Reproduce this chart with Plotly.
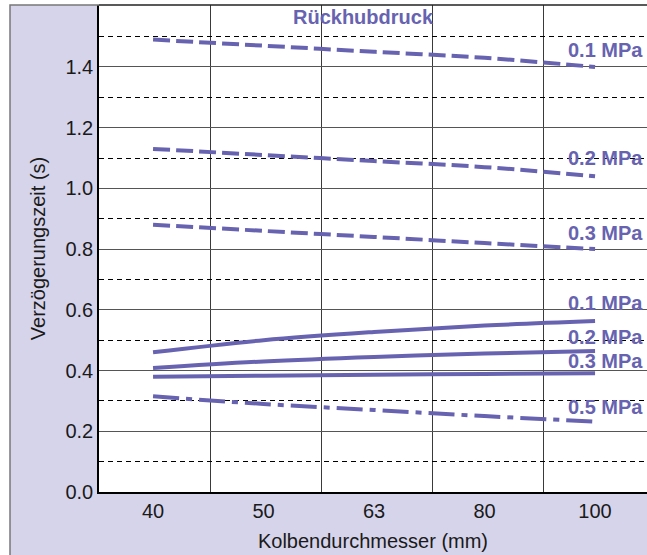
import plotly.graph_objects as go

categories = ["40", "50", "63", "80", "100"]
x_pos = [0, 1, 2, 3, 4]

dashed_01 = [1.49, 1.47, 1.45, 1.43, 1.40]
dashed_02 = [1.13, 1.11, 1.09, 1.07, 1.04]
dashed_03 = [0.88, 0.86, 0.84, 0.82, 0.80]
solid_01 = [0.46, 0.50, 0.527, 0.548, 0.563]
solid_02 = [0.408, 0.43, 0.445, 0.456, 0.464]
solid_03 = [0.38, 0.383, 0.386, 0.389, 0.391]
dashdot_05 = [0.315, 0.29, 0.27, 0.25, 0.232]

labels = ["0.1 MPa", "0.2 MPa", "0.3 MPa", "0.1 MPa", "0.2 MPa", "0.3 MPa", "0.5 MPa"]
label_y = [1.456, 1.10, 0.853, 0.6225, 0.5105, 0.4315, 0.28]

C = "#6763b0"
FONT = "Liberation Sans, Arial, sans-serif"
TXT = "#1a1a1a"

fig = go.Figure()
series = [
    (dashed_01, "17px,6px"), (dashed_02, "17px,6px"), (dashed_03, "17px,6px"),
    (solid_01, "solid"), (solid_02, "solid"), (solid_03, "solid"),
    (dashdot_05, "26px,7px,6px,7px"),
]
for ys, d in series:
    fig.add_trace(go.Scatter(x=x_pos, y=ys, mode="lines",
                             line=dict(color=C, width=4, dash=d, shape="spline"),
                             showlegend=False, hoverinfo="skip"))

for t, yv in zip(labels, label_y):
    fig.add_annotation(x=3.735, y=yv, text="<b>%s</b>" % t, showarrow=False,
                       xanchor="left", yanchor="middle",
                       font=dict(size=20, color=C, family=FONT))

fig.add_annotation(x=1.90, y=1.565, text="<b>Rückhubdruck</b>", showarrow=False,
                   xanchor="center", yanchor="middle",
                   font=dict(size=20, color=C, family=FONT))

# left white strip and top white strip over lavender paper
fig.add_shape(type="rect", xref="paper", yref="paper", x0=-0.2, x1=-0.1624,
              y0=-0.2, y1=1.05, fillcolor="white", line=dict(width=0), layer="below")
fig.add_shape(type="rect", xref="paper", yref="paper", x0=-0.2, x1=1.05,
              y0=1.0, y1=1.05, fillcolor="white", line=dict(width=0), layer="below")
fig.add_shape(type="path", xref="paper", yref="paper",
              path="M -0.1624 -0.2 L -0.1624 1.0 L 0 1.0",
              line=dict(color="#777777", width=1.5))
fig.add_shape(type="line", xref="paper", yref="paper", x0=0, x1=1.01, y0=1.0, y1=1.0,
              line=dict(color="#222222", width=1.5))

fig.update_xaxes(range=[-0.489, 4.47], tickmode="array", tickvals=x_pos,
                 ticktext=categories, showgrid=False, zeroline=False,
                 showline=True, linecolor="black", linewidth=1.5,
                 ticks="", tickfont=dict(size=20, color=TXT, family=FONT),
                 title=dict(text="Kolbendurchmesser (mm)", standoff=13,
                            font=dict(size=20, color=TXT, family=FONT)),
                 minor=dict(tickvals=[0.516, 1.52, 2.525, 3.53], showgrid=True,
                            gridcolor="#3a3a3a", gridwidth=1.3, ticks=""))
fig.update_yaxes(range=[0, 1.604], tickmode="array",
                 tickvals=[0, 0.2, 0.4, 0.6, 0.8, 1.0, 1.2, 1.4],
                 ticktext=["0.0", "0.2", "0.4", "0.6", "0.8", "1.0", "1.2", "1.4"],
                 showgrid=True, gridcolor="#555555", gridwidth=1.3, zeroline=False,
                 showline=True, linecolor="black", linewidth=1.5, ticks="",
                 tickfont=dict(size=20, color=TXT, family=FONT),
                 title=dict(text="Verzögerungszeit (s)", standoff=14,
                            font=dict(size=20, color=TXT, family=FONT)),
                 minor=dict(tickvals=[0.1, 0.3, 0.5, 0.7, 0.9, 1.1, 1.3, 1.5],
                            showgrid=True, gridcolor="black", gridwidth=1,
                            griddash="5px,4px", ticks=""))

fig.update_layout(width=647, height=555,
                  margin=dict(l=99, r=0, t=5, b=63),
                  paper_bgcolor="#d6d4ea", plot_bgcolor="white",
                  font=dict(family=FONT))

fig.write_html("out.html", config={"displayModeBar": False},
               post_script="document.body.style.margin='0';document.body.style.overflow='hidden';")
